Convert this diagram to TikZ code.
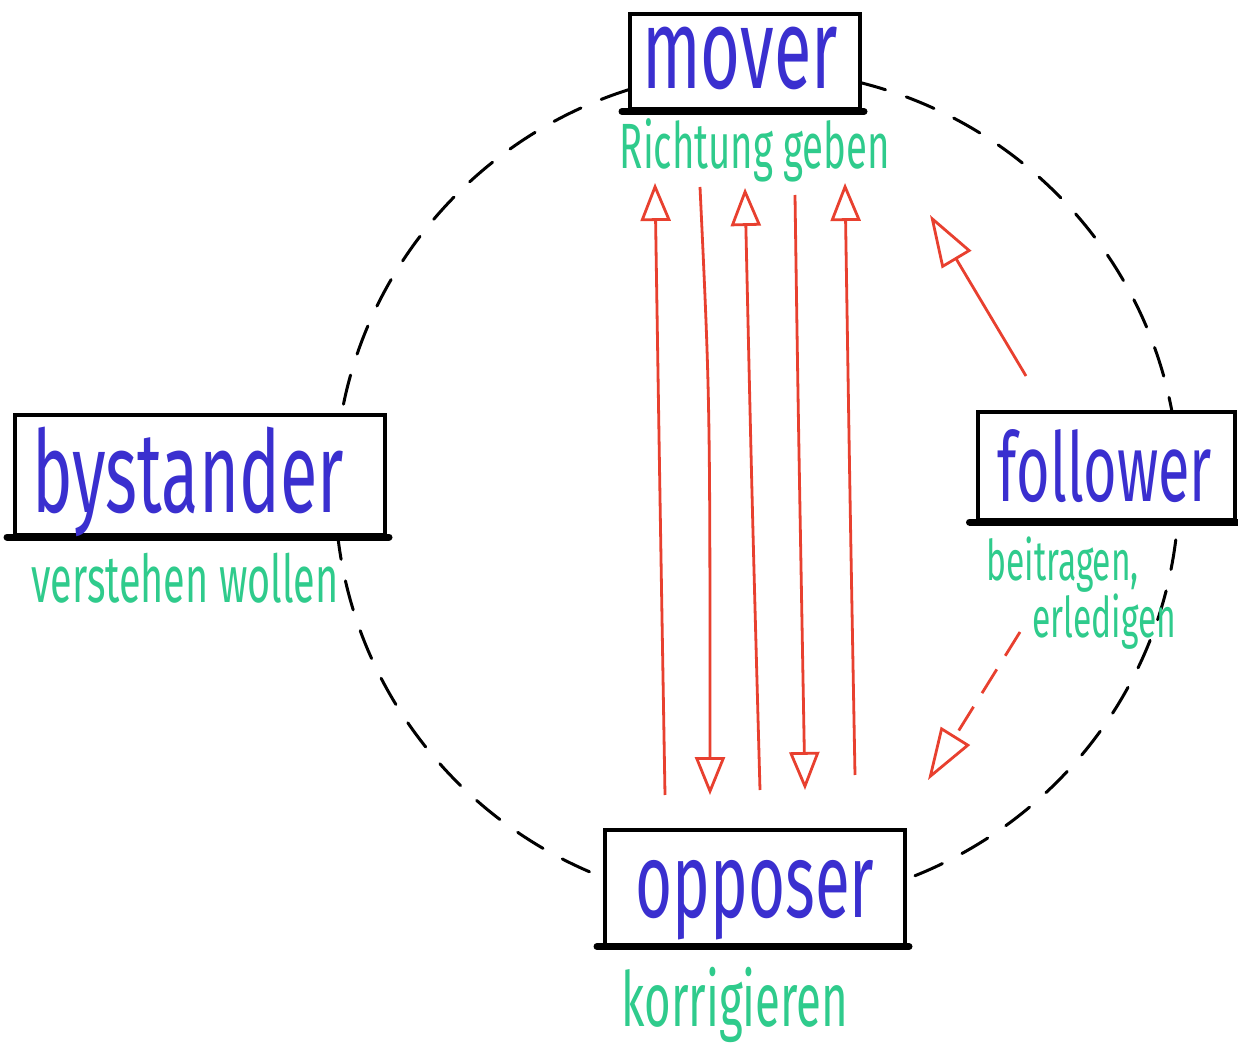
\documentclass[tikz,border=0pt]{standalone}
\usepackage{fontspec}
\newfontfamily\hand[FakeStretch=0.6]{Fira Sans}
\usetikzlibrary{arrows.meta}
\definecolor{inkblue}{HTML}{3A2FCF}
\definecolor{inkgreen}{HTML}{2FCB8C}
\definecolor{inkred}{HTML}{E8402F}
\tikzset{
  rolebox/.style={draw=black, line width=2pt, fill=white, rectangle, inner sep=0pt},
  rolename/.style={text=inkblue, font=\hand, inner sep=0pt, anchor=center},
  duty/.style={text=inkgreen, font=\hand, inner sep=0pt, anchor=center},
  flow/.style={draw=inkred, line width=1.4pt, -{Triangle[open, length=19pt, width=15pt, line width=1.4pt]}},
  ring/.style={draw=black, line width=1.5pt, dash pattern=on 15pt off 11pt, line cap=round},
}
\begin{document}
\begin{tikzpicture}[x=0.5pt, y=-0.5pt]
\useasboundingbox (0,0) rectangle (1238,1048);
\fill[white] (0,0) rectangle (1238,1048);
% dashed ring
\draw[ring] (757,488) ellipse [x radius=422, y radius=418];
% boxes
\node[rolebox, minimum width=115pt, minimum height=47.5pt] (mover) at (745,62) {};
\node[rolebox, minimum width=185pt, minimum height=60pt] (bystander) at (200,475) {};
\node[rolebox, minimum width=128.5pt, minimum height=54pt] (follower) at (1106,466) {};
\node[rolebox, minimum width=150pt, minimum height=57.5pt] (opposer) at (755,887) {};
% thick bottom edges
\foreach \b in {mover,bystander,follower,opposer}
  \draw[line width=3.5pt, line cap=round] ([xshift=-3pt]\b.south west) -- ([xshift=1pt]\b.south east);
% role names
\node[rolename, font=\hand\fontsize{57}{57}\selectfont] (tmover) at (740,58) {mover};
\node[rolename, font=\hand\fontsize{57}{57}\selectfont] (tbystander) at (188,482) {bystander};
\node[rolename, font=\hand\fontsize{48}{48}\selectfont] (tfollower) at (1105,466) {follower};
\node[rolename, font=\hand\fontsize{53}{53}\selectfont] (topposer) at (755,900) {opposer};
% duties
\node[duty, font=\hand\fontsize{32}{32}\selectfont] (dmover) at (755,150) {Richtung geben};
\node[duty, font=\hand\fontsize{33}{33}\selectfont] (dbystander) at (185,578) {verstehen wollen};
\node[duty, font=\hand\fontsize{28}{19}\selectfont, align=left, anchor=north west] (dfollower) at (986,536) {beitragen,\\\hspace*{23pt}erledigen};
\node[duty, font=\hand\fontsize{38}{38}\selectfont] (dopposer) at (735,1005) {korrigieren};
% arrow end points
\coordinate (u1a) at (665,795); \coordinate (u1b) at (655,183);
\coordinate (d1a) at (700,187); \coordinate (d1b) at (710,795);
\coordinate (u2a) at (760,790); \coordinate (u2b) at (745,188);
\coordinate (d2a) at (795,195); \coordinate (d2b) at (805,790);
\coordinate (u3a) at (855,775); \coordinate (u3b) at (845,183);
\coordinate (fa) at (1026,376); \coordinate (fb) at (930,215);
\coordinate (ga) at (1020,632); \coordinate (gb) at (928,780);
% red arrows
\draw[flow] (u1a) .. controls (660,500) .. (u1b);
\draw[flow] (d1a) .. controls (710,400) .. (d1b);
\draw[flow] (u2a) .. controls (752,500) .. (u2b);
\draw[flow] (d2a) .. controls (798,400) .. (d2b);
\draw[flow] (u3a) .. controls (850,500) .. (u3b);
\draw[flow, -{Triangle[open, length=26pt, width=17pt, line width=1.4pt]}] (fa) -- (fb);
\draw[flow, dash pattern=on 14pt off 8pt, -{Triangle[open, length=26pt, width=17pt, line width=1.4pt]}] (ga) -- (gb);
\end{tikzpicture}
\end{document}
